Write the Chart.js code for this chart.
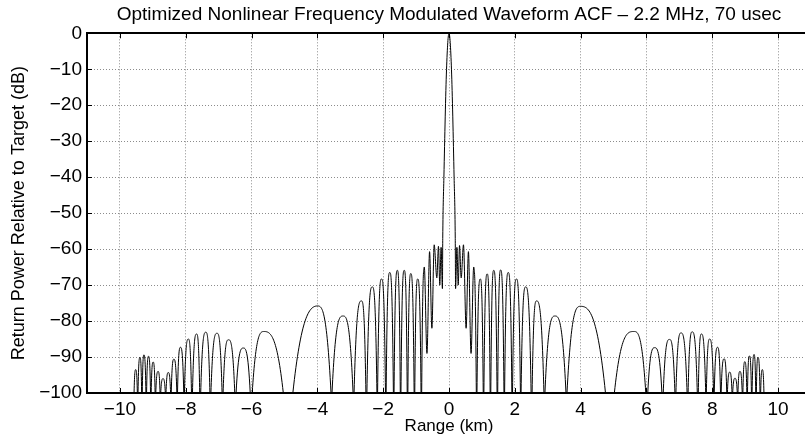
<!DOCTYPE html>
<html>
<head>
<meta charset="utf-8">
<script src="https://cdn.jsdelivr.net/npm/chart.js@4"></script>
<style>
  html, body { margin: 0; padding: 0; background: #fff; overflow: hidden; }
  #wrap { width: 815px; height: 438px; }
</style>
</head>
<body>
<div id="wrap"><canvas id="acf-chart" width="815" height="438"></canvas></div>
<script>
// lobe peaks (range in km, power in dB)
const peakKm = [
  -9.52, -9.39, -9.27, -9.13, -8.99, -8.84, -8.69, -8.53, -8.36, -8.16,
  -7.92, -7.67, -7.39, -7.05, -6.70, -6.25, -5.62, -4.00, -3.22, -2.66,
  -2.33, -2.05, -1.80, -1.57, -1.36, -1.16, -0.95, -0.75, -0.59, -0.45,
  -0.32, -0.24,
  0,
  0.24, 0.32, 0.44, 0.59, 0.75, 0.95, 1.16, 1.36, 1.57, 1.80,
  2.05, 2.33, 2.66, 3.22, 4.00, 5.62, 6.25, 6.70, 7.05, 7.39,
  7.67, 7.92, 8.16, 8.36, 8.53, 8.69, 8.84, 8.99, 9.13, 9.27,
  9.39, 9.52
];
const peakDb = [
  -93.5, -90.1, -89.4, -89.8, -91.4, -94.0, -96.0, -94.3, -90.6, -87.3,
  -85.0, -83.6, -83.1, -83.4, -85.2, -87.5, -82.9, -75.8, -78.6, -74.4,
  -70.5, -68.3, -66.5, -65.9, -65.9, -66.8, -68.3, -65.0, -60.7, -58.8,
  -59.2, -59.5,
  0,
  -59.5, -59.0, -58.8, -60.7, -65.0, -68.3, -66.9, -65.9, -65.8, -66.5,
  -68.3, -70.5, -74.4, -78.6, -75.9, -82.9, -87.4, -85.1, -83.3, -83.0,
  -83.6, -85.0, -87.3, -90.5, -94.2, -95.9, -94.0, -91.3, -89.7, -89.3,
  -90.1, -93.5
];

// nulls between lobes; null dB = drops below the -100 dB floor
const nullKm = [
  -9.58, -9.46, -9.33, -9.20, -9.06, -8.92, -8.77, -8.61, -8.45, -8.26,
  -8.05, -7.81, -7.56, -7.25, -6.88, -6.49, -6.01, -4.89, -3.57, -2.90,
  -2.51, -2.18, -1.92, -1.68, -1.47, -1.26, -1.05, -0.84, -0.67, -0.52,
  -0.37, -0.28, -0.20,
  0.20, 0.28, 0.37, 0.52, 0.67, 0.84, 1.05, 1.26, 1.47, 1.68,
  1.92, 2.18, 2.51, 2.90, 3.57, 4.89, 6.01, 6.49, 6.88, 7.25,
  7.56, 7.81, 8.05, 8.26, 8.45, 8.61, 8.77, 8.92, 9.06, 9.20,
  9.33, 9.46, 9.58
];
const nullDb = [
  null, null, null, null, null, null, null, null, null, null,
  null, null, null, null, null, null, null, null, null, null,
  null, null, null, null, null, null, null, null, -89, -82,
  -68, -70, -71,
  -71, -70, -68, -82, -89, null, null, null, null, null,
  null, null, null, null, null, null, null, null, null, null,
  null, null, null, null, null, null, null, null, null, null,
  null, null, null
];
// width of the gap where a null dips under the floor (km)
const nullGapKm = [
  0.02, 0.02, 0.02, 0.02, 0.02, 0.02, 0.02, 0.02, 0.02, 0.02,
  0.02, 0.03, 0.03, 0.03, 0.03, 0.04, 0.06, 0.29, 0.03, 0.03,
  0.03, 0.02, 0.02, 0.02, 0.02, 0.02, 0.02, 0.02, 0, 0,
  0, 0, 0,
  0, 0, 0, 0, 0, 0.02, 0.02, 0.02, 0.02, 0.02,
  0.02, 0.02, 0.03, 0.03, 0.03, 0.27, 0.06, 0.04, 0.03, 0.03,
  0.03, 0.02, 0.02, 0.02, 0.02, 0.02, 0.02, 0.02, 0.02, 0.02,
  0.02, 0.02, 0.02
];

// main lobe flanks
const mainLobeKm = [-0.19, -0.155, -0.075, 0.075, 0.155, 0.19];
const mainLobeDb = [-57, -40, -10, -10, -40, -57];

const xTickValues = [-10, -8, -6, -4, -2, 0, 2, 4, 6, 8, 10];
const xTickLabels = ['\u221210', '\u22128', '\u22126', '\u22124', '\u22122', '0', '2', '4', '6', '8', '10'];
const yTickValues = [-100, -90, -80, -70, -60, -50, -40, -30, -20, -10, 0];
const yTickLabels = ['\u2212100', '\u221290', '\u221280', '\u221270', '\u221260', '\u221250', '\u221240', '\u221230', '\u221220', '\u221210', '0'];

const titleText = 'Optimized Nonlinear Frequency Modulated Waveform ACF \u2013 2.2 MHz, 70 usec';
const FLOOR_DB = -100;
const UNDER_FLOOR_DB = -120;
const FONT = '"Liberation Sans", Arial, Helvetica, sans-serif';

const points = [];
peakKm.forEach((x, i) => points.push({ x: x, y: peakDb[i] }));
mainLobeKm.forEach((x, i) => points.push({ x: x, y: mainLobeDb[i] }));
nullKm.forEach((x, i) => {
    if (nullDb[i] !== null) {
        points.push({ x: x, y: nullDb[i] });
    } else {
        const half = nullGapKm[i] / 2;
        points.push({ x: x - half, y: FLOOR_DB });
        points.push({ x: x, y: UNDER_FLOOR_DB });
        points.push({ x: x + half, y: FLOOR_DB });
    }
});
points.sort((a, b) => a.x - b.x);

// MATLAB-style inward ticks and the top frame line
const frameTicks = {
    id: 'frameTicks',
    afterDraw(chart) {
        const { ctx, chartArea: a, scales: { x, y } } = chart;
        ctx.save();
        ctx.strokeStyle = '#000';
        ctx.lineWidth = 1;
        ctx.beginPath();
        x.ticks.forEach(t => {
            const px = Math.round(x.getPixelForValue(t.value)) + 0.5;
            ctx.moveTo(px, a.bottom);
            ctx.lineTo(px, a.bottom - 5);
            ctx.moveTo(px, a.top);
            ctx.lineTo(px, a.top + 5);
        });
        y.ticks.forEach(t => {
            const py = Math.round(y.getPixelForValue(t.value)) + 0.5;
            ctx.moveTo(a.left, py);
            ctx.lineTo(a.left + 5, py);
        });
        ctx.stroke();
        ctx.lineWidth = 2;
        ctx.beginPath();
        ctx.moveTo(a.left, Math.round(a.top));
        ctx.lineTo(a.right, Math.round(a.top));
        ctx.stroke();
        ctx.restore();
    }
};

const ctx = document.getElementById('acf-chart').getContext('2d');
new Chart(ctx, {
    type: 'line',
    data: {
        datasets: [{
            data: points,
            borderColor: '#000',
            borderWidth: 1,
            pointRadius: 0,
            fill: false,
            cubicInterpolationMode: 'monotone'
        }]
    },
    options: {
        responsive: false,
        animation: false,
        devicePixelRatio: 1,
        layout: { padding: { left: 0, right: 4, top: 0, bottom: 0 } },
        plugins: {
            legend: { display: false },
            tooltip: { enabled: false },
            title: {
                display: true,
                text: titleText,
                fullSize: false,
                color: '#000',
                font: { family: FONT, size: 19, weight: 'normal' },
                padding: { top: 3, bottom: 7.5 }
            }
        },
        scales: {
            x: {
                type: 'linear',
                min: -11,
                max: 11,
                afterBuildTicks: s => { s.ticks = xTickValues.map(v => ({ value: v })); },
                afterFit: s => { s.height = 45; },
                grid: { color: '#8c8c8c', lineWidth: 1, drawTicks: false },
                border: { display: true, color: '#000', width: 2, dash: [1, 2] },
                ticks: {
                    color: '#000',
                    padding: 5,
                    maxRotation: 0,
                    autoSkip: false,
                    font: { family: FONT, size: 19 },
                    callback: (v, i) => xTickLabels[i]
                },
                title: {
                    display: true,
                    text: 'Range (km)',
                    color: '#000',
                    font: { family: FONT, size: 17 },
                    padding: { top: 0, bottom: 1 }
                }
            },
            y: {
                type: 'linear',
                min: -100,
                max: 0,
                afterBuildTicks: s => { s.ticks = yTickValues.map(v => ({ value: v })); },
                afterFit: s => { s.width = 87; },
                grid: { color: '#8c8c8c', lineWidth: 1, drawTicks: false },
                border: { display: true, color: '#000', width: 2, dash: [1, 2] },
                ticks: {
                    color: '#000',
                    padding: 5,
                    autoSkip: false,
                    font: { family: FONT, size: 19 },
                    callback: (v, i) => yTickLabels[i]
                },
                title: {
                    display: true,
                    text: 'Return Power Relative to Target (dB)',
                    color: '#000',
                    font: { family: FONT, size: 18 },
                    padding: { top: 8, bottom: 0 }
                }
            }
        }
    },
    plugins: [frameTicks]
});
</script>
</body>
</html>
